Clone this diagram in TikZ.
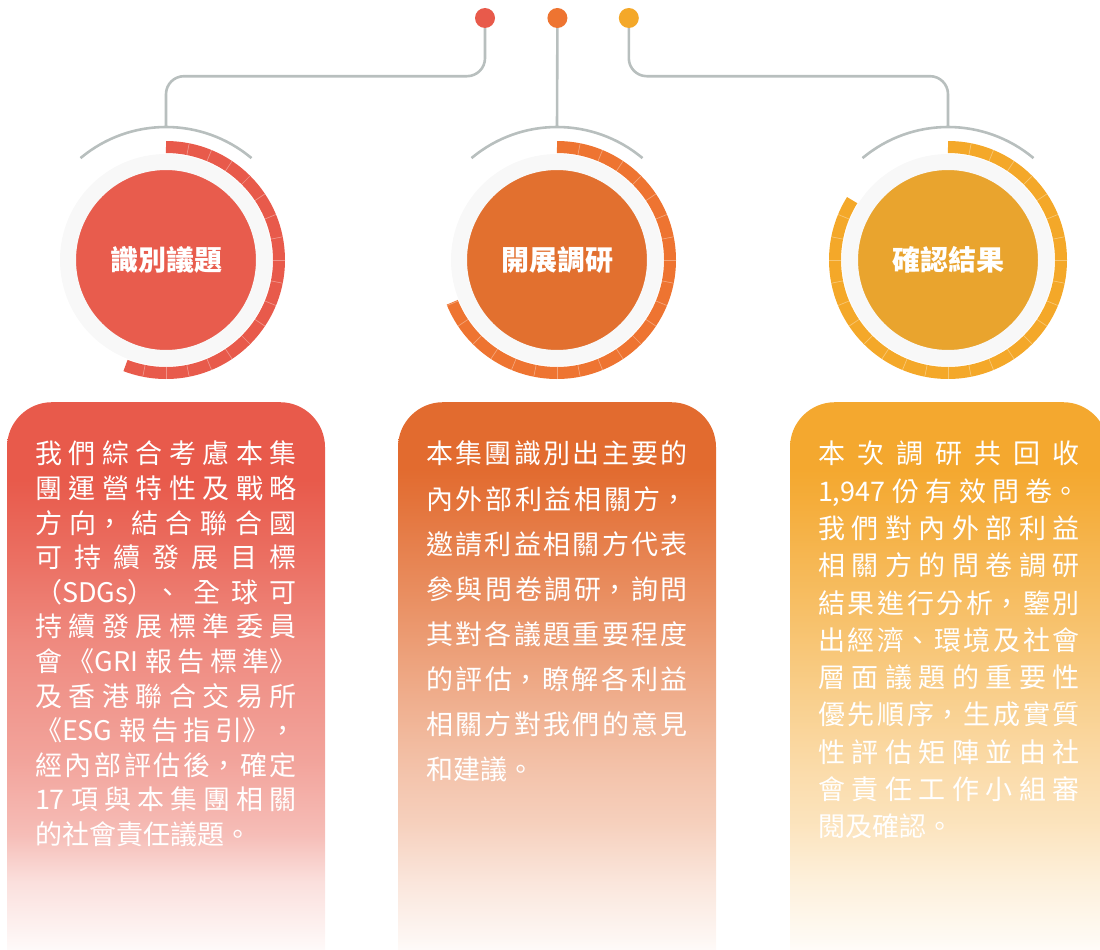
\documentclass[tikz,border=0pt]{standalone}
\usepackage{fontspec}
\setmainfont{Noto Sans CJK TC}
\usetikzlibrary{positioning}

\XeTeXlinebreaklocale "zh"
\XeTeXlinebreakskip=0pt plus 20pt
\tolerance=9999
\hbadness=10000

\definecolor{wiregray}{HTML}{B8BFBE}
\definecolor{ringgray}{HTML}{F8F8F8}
\definecolor{redin}{HTML}{E85C4D}
\definecolor{redarc}{HTML}{E85A4B}
\definecolor{orangein}{HTML}{E2702F}
\definecolor{orangearc}{HTML}{EE7431}
\definecolor{yellowin}{HTML}{E9A42E}
\definecolor{yellowarc}{HTML}{F4A829}
\definecolor{redbox}{HTML}{E85A4B}
\definecolor{orangebox}{HTML}{E26B2F}
\definecolor{yellowbox}{HTML}{F4A82F}

% fades of the three panels, white at the foot
\pgfdeclareverticalshading{redfade}{100bp}{color(0bp)=(white); color(29bp)=(redbox!2!white); color(30bp)=(redbox!5!white); color(35bp)=(redbox!19!white); color(39bp)=(redbox!40!white); color(45bp)=(redbox!55!white); color(55bp)=(redbox!71!white); color(62bp)=(redbox!87!white); color(68.5bp)=(redbox); color(100bp)=(redbox)}
\pgfdeclareverticalshading{orangefade}{100bp}{color(0bp)=(white); color(29bp)=(orangebox!2!white); color(30bp)=(orangebox!5!white); color(35bp)=(orangebox!17!white); color(40bp)=(orangebox!32!white); color(44bp)=(orangebox!40!white); color(50bp)=(orangebox!54!white); color(58.5bp)=(orangebox!75!white); color(67bp)=(orangebox!95!white); color(69.5bp)=(orangebox); color(100bp)=(orangebox)}
\pgfdeclareverticalshading{yellowfade}{100bp}{color(0bp)=(white); color(29bp)=(yellowbox!2!white); color(30bp)=(yellowbox!5!white); color(35bp)=(yellowbox!17!white); color(40bp)=(yellowbox!32!white); color(44bp)=(yellowbox!40!white); color(50bp)=(yellowbox!54!white); color(58.5bp)=(yellowbox!75!white); color(67bp)=(yellowbox!95!white); color(69.5bp)=(yellowbox); color(100bp)=(yellowbox)}

\begin{document}
\begin{tikzpicture}[x=1pt, y=1pt,
    dot/.style={circle, minimum size=20, inner sep=0},
    wire/.style={draw=wiregray, line width=2.6},
    hub/.style={circle, draw=ringgray, line width=16, minimum size=196, inner sep=0,
      text=white, font=\fontsize{28}{28}\selectfont\bfseries},
    band/.style={line width=12},
    notch/.style={draw=white, draw opacity=0.35, line width=0.7},
    panel/.style={shade, rounded corners=45, minimum width=318, minimum height=600,
      inner sep=0, anchor=north},
    paneltext/.style={text=white, text width=262, align=justify, inner sep=0}]
  \useasboundingbox (0,0) rectangle (1100,-950);

  % panels
  \node[panel, shading=redfade] (b1) at (166,-402) {};
  \node[panel, shading=orangefade] (b2) at (557,-402) {};
  \node[panel, shading=yellowfade] (b3) at (949,-402) {};

  \node[paneltext, font=\fontsize{27}{34.6}\selectfont, below=39 of b1.north] (t1)
    {我們綜合考慮本集\linebreak 團運營特性及戰略\linebreak 方向，結合聯合國\linebreak
     可持續發展目標\linebreak （SDGs）、全球可\linebreak 持續發展標準委員\linebreak
     會《GRI 報告標準》\linebreak 及香港聯合交易所\linebreak 《ESG 報告指引》，\linebreak
     經內部評估後，確定\linebreak 17 項與本集團相關\linebreak 的社會責任議題。};
  \node[paneltext, font=\fontsize{27}{45.1}\selectfont, below=39 of b2.north] (t2)
    {本集團識別出主要的\linebreak 內外部利益相關方，\linebreak 邀請利益相關方代表\linebreak
     參與問卷調研，詢問\linebreak 其對各議題重要程度\linebreak 的評估，瞭解各利益\linebreak
     相關方對我們的意見\linebreak 和建議。};
  \node[paneltext, font=\fontsize{27}{37.3}\selectfont, below=39 of b3.north] (t3)
    {本次調研共回收\linebreak 1,947 份有效問卷。\linebreak 我們對內外部利益\linebreak
     相關方的問卷調研\linebreak 結果進行分析，鑒別\linebreak 出經濟、環境及社會\linebreak
     層面議題的重要性\linebreak 優先順序，生成實質\linebreak 性評估矩陣並由社\linebreak
     會責任工作小組審\linebreak 閱及確認。};

  % steps
  \node[hub, fill=redin] (c1) at (166,-260) {識別議題};
  \node[hub, fill=orangein] (c2) at (557,-260) {開展調研};
  \node[hub, fill=yellowin] (c3) at (948,-260) {確認結果};

  \foreach \ring/\stop/\col in {c1/-111/redarc, c2/-158/orangearc, c3/-212/yellowarc} {
    \draw[band, draw=\col] ([shift={(90:113)}]\ring.center) arc[start angle=90, end angle=\stop, radius=113];
    \foreach \a in {78.75,67.5,...,\stop}
      \draw[notch] ([shift={(\a:107)}]\ring.center) -- ([shift={(\a:119)}]\ring.center);
    \draw[wire] ([shift={(50:133)}]\ring.center) arc[start angle=50, end angle=130, radius=133];
  }
  \coordinate (top1) at ([yshift=133]c1.center);
  \coordinate (top2) at ([yshift=133]c2.center);
  \coordinate (top3) at ([yshift=133]c3.center);

  % dots and wires
  \node[dot, fill=redarc] (d1) at (485,-18) {};
  \node[dot, fill=orangearc, right=52 of d1] (d2) {};
  \node[dot, fill=yellowarc, right=51 of d2] (d3) {};

  \draw[wire, rounded corners=18] (d1.south) -- ++(0,-48) -| (top1);
  \draw[wire] (d2.south) -- (top2);
  \draw[wire, rounded corners=18] (d3.south) -- ++(0,-48) -| (top3);
\end{tikzpicture}
\end{document}
